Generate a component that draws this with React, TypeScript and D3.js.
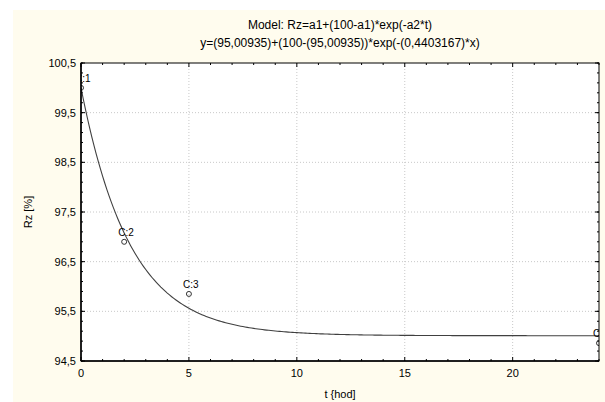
import React from 'react';
import * as d3 from 'd3';

// measured points (t in hours, Rz in %)
const caseNames = ['C:1', 'C:2', 'C:3', 'C:4'];
const tValues = [0, 2, 5, 24];
const rzValues = [100.0, 96.9, 95.85, 94.86];

// fitted model parameters (from the title)
const a1 = 95.00935;
const a2 = 0.4403167;

const xTicks = [0, 5, 10, 15, 20];
const yTicks = [94.5, 95.5, 96.5, 97.5, 98.5, 99.5, 100.5];

const titleLines = [
  'Model: Rz=a1+(100-a1)*exp(-a2*t)',
  'y=(95,00935)+(100-(95,00935))*exp(-(0,4403167)*x)',
];

const fmt = (v: number) => String(v).replace('.', ',');

const App = () => {
  const width = 605;
  const height = 402;
  const left = 81;
  const right = 599;
  const top = 63;
  const bottom = 361;

  const x = d3.scaleLinear().domain([0, 24]).range([left, right]);
  const y = d3.scaleLinear().domain([94.5, 100.5]).range([bottom, top]);

  const model = (t: number) => a1 + (100 - a1) * Math.exp(-a2 * t);
  const curveT = d3.range(0, 24.01, 0.1);
  const line = d3
    .line<number>()
    .x((t) => x(t))
    .y((t) => y(model(t)));

  const xMinor = d3.range(0, 25, 1);
  const yMinor = d3.range(94.5, 100.51, 0.2);
  const font = '"Liberation Sans", Arial, sans-serif';

  return (
    <svg
      width={width}
      height={height}
      style={{ position: 'absolute', left: 0, top: 0, background: '#fff' }}
      fontFamily={font}
    >
      <defs>
        <clipPath id="plot">
          <rect x={left} y={top} width={right - left} height={bottom - top} />
        </clipPath>
      </defs>
      <rect x={13} y={10} width={width - 13} height={height - 10} fill="#fffcee" />
      <rect x={left} y={top} width={right - left} height={bottom - top} fill="#fff" />

      {titleLines.map((t, i) => (
        <text key={i} x={(left + right) / 2} y={29 + i * 18} textAnchor="middle" fontSize={12} fill="#000">
          {t}
        </text>
      ))}

      {/* grid */}
      {xTicks.slice(1).map((t) => (
        <line key={t} x1={x(t)} x2={x(t)} y1={top} y2={bottom} stroke="#c8c8c8" strokeDasharray="1,2" />
      ))}
      {yTicks.slice(1, -1).map((t) => (
        <line key={t} x1={left} x2={right} y1={y(t)} y2={y(t)} stroke="#c8c8c8" strokeDasharray="1,2" />
      ))}

      {/* minor ticks */}
      {xMinor.map((t) => (
        <g key={t} stroke="#000">
          <line x1={x(t)} x2={x(t)} y1={bottom} y2={bottom - (t % 5 === 0 ? 4 : 2)} />
          <line x1={x(t)} x2={x(t)} y1={top} y2={top + (t % 5 === 0 ? 4 : 2)} />
        </g>
      ))}
      {yMinor.map((t) => (
        <g key={t} stroke="#000">
          <line x1={left} x2={left + 2} y1={y(t)} y2={y(t)} />
          <line x1={right} x2={right - 2} y1={y(t)} y2={y(t)} />
        </g>
      ))}
      {yTicks.map((t) => (
        <g key={t} stroke="#000">
          <line x1={left} x2={left + 4} y1={y(t)} y2={y(t)} />
          <line x1={right} x2={right - 4} y1={y(t)} y2={y(t)} />
        </g>
      ))}

      <g clipPath="url(#plot)">
        <path d={line(curveT) ?? ''} fill="none" stroke="#404040" strokeWidth={1.1} />
        {tValues.map((t, i) => (
          <g key={i}>
            <circle cx={x(t)} cy={y(rzValues[i])} r={2.5} fill="none" stroke="#333" strokeWidth={1} />
            <text x={x(t) - 6} y={y(rzValues[i]) - 6} fontSize={10} fill="#000">
              {caseNames[i]}
            </text>
          </g>
        ))}
      </g>

      <rect x={left} y={top} width={right - left} height={bottom - top} fill="none" stroke="#000" strokeWidth={1} />
      <line x1={left} x2={left} y1={top} y2={bottom} stroke="#000" strokeWidth={1.5} />
      <line x1={left} x2={right} y1={bottom} y2={bottom} stroke="#000" strokeWidth={1.5} />

      {yTicks.map((t) => (
        <text key={t} x={left - 5} y={y(t) + 4} textAnchor="end" fontSize={11} fill="#000">
          {fmt(t)}
        </text>
      ))}
      {xTicks.map((t) => (
        <text key={t} x={x(t)} y={bottom + 16} textAnchor="middle" fontSize={11} fill="#000">
          {fmt(t)}
        </text>
      ))}

      <text x={(left + right) / 2} y={bottom + 37} textAnchor="middle" fontSize={11} fill="#000">
        t {'{hod]'}
      </text>
      <text
        transform={`translate(32,${(top + bottom) / 2}) rotate(-90)`}
        textAnchor="middle"
        fontSize={11}
        fill="#000"
      >
        Rz [%]
      </text>
    </svg>
  );
};

export default App;
